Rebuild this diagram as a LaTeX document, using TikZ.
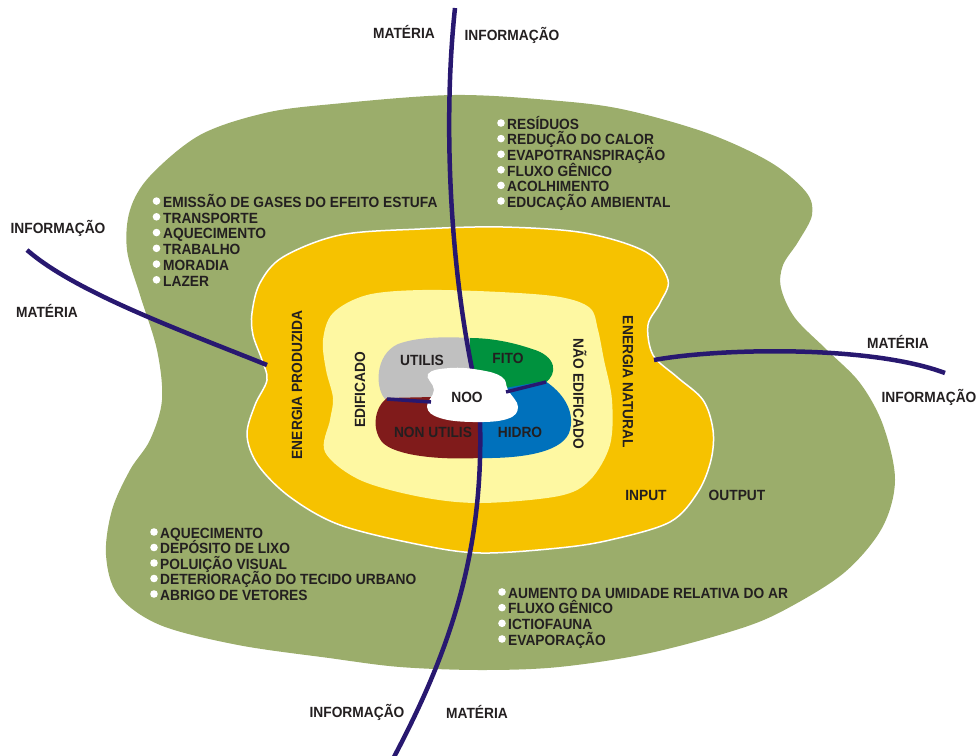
\documentclass[tikz,border=0pt]{standalone}
\usepackage{fontspec}
\setmainfont{Liberation Sans}
\newfontfamily\rotulo[FakeStretch=0.93]{Liberation Sans}
\usetikzlibrary{calc}
\definecolor{mato}{RGB}{155,173,107}
\definecolor{ouro}{RGB}{246,194,0}
\definecolor{creme}{RGB}{254,248,162}
\definecolor{cinza}{RGB}{192,192,192}
\definecolor{fito}{RGB}{0,146,62}
\definecolor{hidro}{RGB}{0,113,188}
\definecolor{vinho}{RGB}{128,27,27}
\definecolor{anil}{RGB}{40,24,112}
\definecolor{tinta}{RGB}{35,31,32}

\begin{document}
\begin{tikzpicture}[x=1pt, y=-1pt,
		lbl/.style={font=\rotulo\fontsize{14.8}{15}\selectfont\bfseries, text=tinta, inner sep=0pt},
		item/.style={lbl, anchor=west, text height=10.6pt, text depth=0pt},
		flow/.style={draw=anil, line width=4.5pt},
		divisa/.style={draw=anil, line width=3.5pt},
		bola/.style={fill=white}]
			%%%%% START %%%%%
			\useasboundingbox (0,0) rectangle (977,755);
			
			\fill[mato] plot[smooth cycle, tension=0.55] coordinates {(333,104) (454,95) (560,101) (626,110) (707,133) (770,162) (806,192) (812,215) (798,242) (783,265) (781,288) (795,318) (827,350) (860,383) (883,425) (895,480) (882,528) (845,572) (790,607) (742,628) (650,653) (559,667) (481,670) (400,667) (329,658) (238,645) (160,625) (118,595) (106,555) (112,510) (130,470) (150,440) (162,400) (157,350) (140,295) (127,250) (130,210) (150,176) (200,135) (265,113)};
			
			\draw[fill=ouro, draw=white, line width=1.5pt] plot[smooth cycle, tension=0.55] coordinates {(283,257) (340,235) (420,229) (503,227) (585,233) (646,252) (668,280) (660,303) (648,325) (653,355) (677,377) (703,400) (713,430) (711,460) (698,492) (670,522) (610,540) (559,548) (481,553) (421,545) (340,525) (290,497) (258,465) (247,435) (255,405) (267,380) (262,360) (253,335) (252,313) (260,283)};
			
			\fill[creme] plot[smooth cycle, tension=0.55] coordinates {(333,313) (367,295) (422,290) (500,292) (560,297) (590,308) (598,330) (604,360) (612,400) (610,445) (590,480) (559,496) (481,503) (421,497) (360,480) (325,452) (330,420) (333,398) (326,370) (323,340)};
			
			\fill[cinza] (472,338) -- (472,402) -- (386,400) .. controls (375,390) and (374,355) .. (398,344) .. controls (420,336) and (450,337) .. (472,338) -- cycle;
			\fill[fito] (470,338) -- (470,396) -- (545,383) .. controls (558,374) and (557,356) .. (532,349) .. controls (512,342) and (490,338) .. (470,338) -- cycle;
			\fill[hidro] (477,458) -- (477,393) -- (545,381) .. controls (562,392) and (575,410) .. (570,430) .. controls (565,450) and (530,459) .. (477,458) -- cycle;
			\fill[vinho] (479,396) -- (479,458) .. controls (440,460) and (395,456) .. (382,442) .. controls (371,428) and (375,407) .. (387,398) -- cycle;
			
			\coordinate (topo) at (455,8);
			\coordinate (noo-n) at (472,369);
			\coordinate (esq) at (27,250);
			\coordinate (esq-in) at (267,365);
			\coordinate (dir-in) at (654,360);
			\coordinate (dir) at (945,373);
			\coordinate (noo-s) at (480,420);
			\coordinate (base) at (394,757);
			
			\draw[flow] (topo) .. controls (443,120) and (450,260) .. (noo-n);
			\draw[flow] (esq) .. controls (75,292) and (180,330) .. (esq-in);
			\draw[flow] (dir-in) .. controls (720,348) and (870,345) .. (dir);
			\draw[flow] (noo-s) .. controls (484,560) and (445,660) .. (base);
			
			\fill[white] plot[smooth cycle, tension=0.7] coordinates {(428,374) (450,368) (480,370) (502,377) (508,390) (518,407) (507,419) (473,422) (440,418) (427,407) (434,390)};
			\draw[divisa] (387,399) -- (431,402);
			\draw[divisa] (506,392) -- (546,382);
			
			\node[lbl] (utilis) at (422,360) {UTILIS};
			\node[lbl] (fito) at (508,358) {FITO};
			\node[lbl] (noo) at (467,397) {NOO};
			\node[lbl] (nonutilis) at (433,432) {NON UTILIS};
			\node[lbl] (hidro) at (520,432) {HIDRO};
			\node[lbl, rotate=90] (edif) at (360,390) {EDIFICADO};
			\node[lbl, rotate=-90] (naoedif) at (580,394) {NÃO EDIFICADO};
			\node[lbl, rotate=90] (eprod) at (297,385) {ENERGIA PRODUZIDA};
			\node[lbl, rotate=-90] (enat) at (628,382) {ENERGIA NATURAL};
			\node[lbl] (input) at (646,495) {INPUT};
			\node[lbl] (output) at (737,495) {OUTPUT};
			
			\node[lbl] (mat-n) at (404,32) {MATÉRIA};
			\node[lbl] (inf-n) at (512,35) {INFORMAÇÃO};
			\node[lbl] (inf-w) at (58,228) {INFORMAÇÃO};
			\node[lbl] (mat-w) at (47,311) {MATÉRIA};
			\node[lbl] (mat-e) at (898,342) {MATÉRIA};
			\node[lbl] (inf-e) at (929,397) {INFORMAÇÃO};
			\node[lbl] (inf-s) at (357,712) {INFORMAÇÃO};
			\node[lbl] (mat-s) at (477,712) {MATÉRIA};
			
			\foreach \t [count=\i] in {EMISSÃO DE GASES DO EFEITO ESTUFA, TRANSPORTE, AQUECIMENTO, TRABALHO, MORADIA, LAZER}{
				\node[item] (tl\i) at (163,186.3+15.75*\i) {\t};
				\fill[bola] ($(tl\i.west)+(-6.5,-1)$) circle (3.8pt);
			}
			\foreach \t [count=\i] in {RESÍDUOS, REDUÇÃO DO CALOR, EVAPOTRANSPIRAÇÃO, FLUXO GÊNICO, ACOLHIMENTO, EDUCAÇÃO AMBIENTAL}{
				\node[item] (tr\i) at (507,108.4+15.6*\i) {\t};
				\fill[bola] ($(tr\i.west)+(-6,-1)$) circle (3.8pt);
			}
			\foreach \t [count=\i] in {AQUECIMENTO, DEPÓSITO DE LIXO, POLUIÇÃO VISUAL, DETERIORAÇÃO DO TECIDO URBANO, ABRIGO DE VETORES}{
				\node[item] (bl\i) at (160,517.5+15.5*\i) {\t};
				\fill[bola] ($(bl\i.west)+(-6,-1)$) circle (3.8pt);
			}
			\foreach \t [count=\i] in {AUMENTO DA UMIDADE RELATIVA DO AR, FLUXO GÊNICO, ICTIOFAUNA, EVAPORAÇÃO}{
				\node[item] (br\i) at (508,577.3+15.67*\i) {\t};
				\fill[bola] ($(br\i.west)+(-6,-1)$) circle (3.8pt);
			}
			%%%%% END %%%%%
\end{tikzpicture}
\end{document}
